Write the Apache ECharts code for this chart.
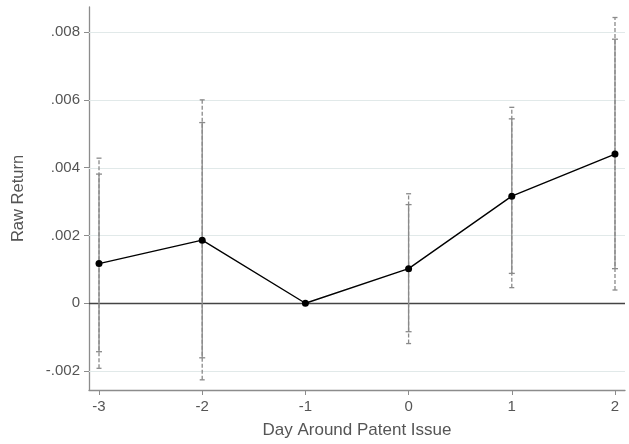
<!DOCTYPE html>
<html>
<head>
<meta charset="utf-8">
<script src="https://cdn.jsdelivr.net/npm/echarts@6/dist/echarts.min.js"></script>
<style>html,body{margin:0;padding:0;background:#fff}#c{width:629px;height:444px}</style>
</head>
<body>
<div id="c"></div>
<script>
var days = [-3, -2, -1, 0, 1, 2];
var rawReturn = [0.00117, 0.00186, 0.0, 0.00102, 0.00316, 0.00440];
var innerLo = [-0.00143, -0.00161, null, -0.00084, 0.00088, 0.00102];
var innerHi = [0.00381, 0.00533, null, 0.00291, 0.00544, 0.00779];
var outerLo = [-0.00192, -0.00226, null, -0.00119, 0.00046, 0.00039];
var outerHi = [0.00428, 0.00600, null, 0.00323, 0.00578, 0.00843];
var yTicks = [-0.002, 0, 0.002, 0.004, 0.006, 0.008];
var yTickLabels = ['-.002', '0', '.002', '.004', '.006', '.008'];
var xTicks = [-3, -2, -1, 0, 1, 2];

var font = 'Liberation Sans, Arial, Helvetica, sans-serif';
var barColor = '#8a8a8a';

function ciData(lo, hi) {
  var out = [];
  for (var i = 0; i < days.length; i++) {
    if (lo[i] !== null && hi[i] !== null) out.push([days[i], lo[i], hi[i]]);
  }
  return out;
}

function makeRender(capW, dashed) {
  return function (params, api) {
    var x = api.value(0);
    var p1 = api.coord([x, api.value(1)]);
    var p2 = api.coord([x, api.value(2)]);
    var style = { stroke: barColor, lineWidth: 1.3 };
    if (dashed) style.lineDash = [4, 2];
    return {
      type: 'group',
      children: [
        { type: 'line', shape: { x1: p1[0], y1: p1[1], x2: p2[0], y2: p2[1] }, style: style },
        { type: 'line', shape: { x1: p1[0] - capW, y1: p1[1], x2: p1[0] + capW, y2: p1[1] }, style: { stroke: barColor, lineWidth: 1.3 } },
        { type: 'line', shape: { x1: p2[0] - capW, y1: p2[1], x2: p2[0] + capW, y2: p2[1] }, style: { stroke: barColor, lineWidth: 1.3 } }
      ]
    };
  };
}

function gridRender(params, api) {
  var v = api.value(0);
  var a = api.coord([-3.097, v]);
  var b = api.coord([2.097, v]);
  var isZero = Math.abs(v) < 1e-12;
  return {
    type: 'line',
    shape: { x1: a[0], y1: Math.round(a[1]) + 0.5, x2: b[0], y2: Math.round(b[1]) + 0.5 },
    style: isZero ? { stroke: '#444444', lineWidth: 1.6 } : { stroke: '#e1e9e9', lineWidth: 1 }
  };
}

var lineData = days.map(function (d, i) { return [d, rawReturn[i]]; });
var labelMap = {};
yTicks.forEach(function (v, i) { labelMap[v.toFixed(3)] = yTickLabels[i]; });

var chart = echarts.init(document.getElementById('c'), null, { renderer: 'canvas' });
chart.setOption({
  animation: false,
  backgroundColor: '#ffffff',
  grid: { left: 89, right: 4, top: 7, bottom: 53, containLabel: false },
  xAxis: {
    type: 'value',
    min: -3.097,
    max: 2.097,
    name: 'Day Around Patent Issue',
    nameLocation: 'middle',
    nameGap: 32,
    nameTextStyle: { fontFamily: font, fontSize: 17, color: '#555' },
    axisLine: { show: true, onZero: false, lineStyle: { color: '#8c8c8c', width: 1.3 } },
    axisTick: { show: true, length: 5, customValues: xTicks, lineStyle: { color: '#8c8c8c' } },
    axisLabel: { customValues: xTicks, fontFamily: font, fontSize: 15, color: '#555', margin: 9,
      formatter: function (v) { return String(v); } },
    splitLine: { show: false }
  },
  yAxis: {
    type: 'value',
    min: -0.00256,
    max: 0.00874,
    name: 'Raw Return',
    nameLocation: 'middle',
    nameGap: 62,
    nameRotate: 90,
    nameTextStyle: { fontFamily: font, fontSize: 16.5, color: '#555' },
    axisLine: { show: true, onZero: false, lineStyle: { color: '#8c8c8c', width: 1.3 } },
    axisTick: { show: true, length: 5, customValues: yTicks, lineStyle: { color: '#8c8c8c' } },
    axisLabel: { customValues: yTicks, fontFamily: font, fontSize: 15, color: '#555', margin: 9,
      formatter: function (v) { var k = Number(v).toFixed(3); return labelMap[k] !== undefined ? labelMap[k] : ''; } },
    splitLine: { show: false }
  },
  series: [
    {
      type: 'custom',
      name: 'grid',
      silent: true,
      data: yTicks.map(function (v) { return [v]; }),
      encode: { y: 0 },
      renderItem: gridRender,
      z: 1
    },
    {
      type: 'custom',
      name: 'outer',
      data: ciData(outerLo, outerHi),
      renderItem: makeRender(2.5, true),
      z: 2
    },
    {
      type: 'custom',
      name: 'inner',
      data: ciData(innerLo, innerHi),
      renderItem: makeRender(3, false),
      z: 3
    },
    {
      type: 'line',
      name: 'Raw Return',
      data: lineData,
      symbol: 'circle',
      symbolSize: 7,
      itemStyle: { color: '#000' },
      lineStyle: { color: '#000', width: 1.4 },
      z: 5
    }
  ]
});
</script>
</body>
</html>
